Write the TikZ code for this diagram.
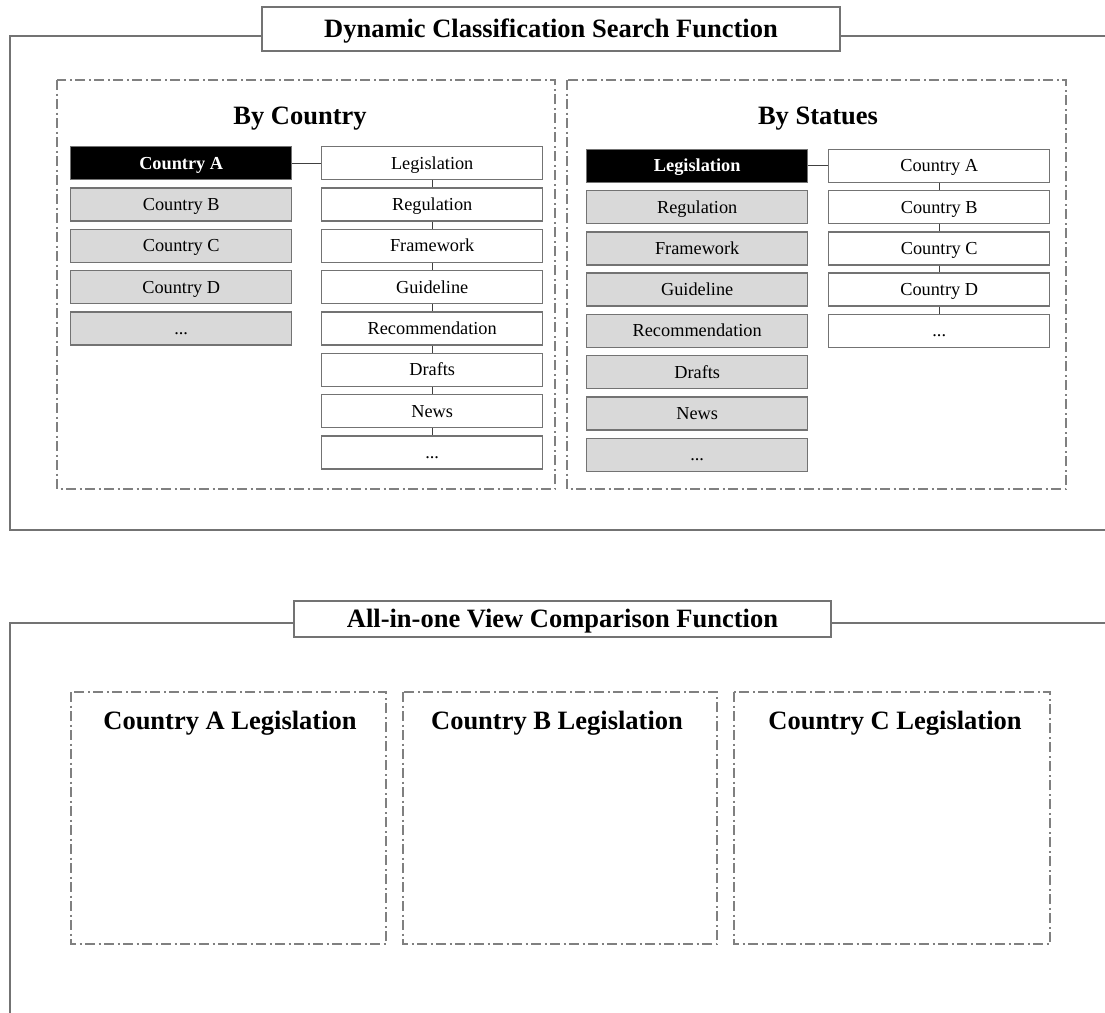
\documentclass[tikz,border=0pt]{standalone}
\usepackage{fontspec}
\setmainfont{Liberation Serif}
\begin{document}
\begin{tikzpicture}[x=1pt,y=-1pt,
  frame/.style={draw=black!55,line width=1.6pt},
  bigtext/.style={font=\fontsize{26.5}{28}\selectfont\bfseries,text height=19.8pt,text depth=2.3pt},
  titlebox/.style={bigtext,draw=black!55,line width=1.4pt,fill=white,inner sep=0pt},
  panel/.style={draw=black!50,line width=1.3pt,dash pattern=on 10pt off 3.5pt on 2pt off 3.5pt},
  heading/.style={bigtext,inner sep=0pt},
  cell/.style={draw=black!55,line width=1.4pt,minimum width=221pt,minimum height=33pt,inner sep=0pt,anchor=north west,font=\fontsize{18.3}{20}\selectfont,text height=13.7pt,text depth=1.6pt},
  wcell/.style={cell,fill=white},
  gcell/.style={cell,fill=black!15},
  bcell/.style={cell,fill=black,text=white,font=\fontsize{18.3}{20}\selectfont\bfseries},
  conn/.style={draw=black!75,line width=0.8pt}
]
\useasboundingbox (0,0) rectangle (1105,1012);

% ---------- upper frame ----------
\coordinate (f1a) at (1106,36);
\coordinate (f1b) at (10,36);
\coordinate (f1c) at (10,530);
\coordinate (f1d) at (1106,530);
\draw[frame] (f1a) -- (f1b) -- (f1c) -- (f1d);
\node[titlebox,minimum width=578pt,minimum height=44pt] (t1) at (551,29) {Dynamic Classification Search Function};

% panels
\coordinate (p1a) at (57,80);  \coordinate (p1b) at (555,489);
\coordinate (p2a) at (567,80); \coordinate (p2b) at (1066,489);
\draw[panel] (p1a) rectangle (p1b);
\draw[panel] (p2a) rectangle (p2b);
\node[heading] (h1) at (300,116) {By Country};
\node[heading] (h2) at (818,116) {By Statues};

% By Country
\node[bcell] (L0) at (70,146.0) {Country A};
\node[gcell] (L1) at (70,187.3) {Country B};
\node[gcell] (L2) at (70,228.6) {Country C};
\node[gcell] (L3) at (70,269.9) {Country D};
\node[gcell] (L4) at (70,311.2) {...};

\node[wcell] (R0) at (321,146.0) {Legislation};
\node[wcell] (R1) at (321,187.3) {Regulation};
\node[wcell] (R2) at (321,228.6) {Framework};
\node[wcell] (R3) at (321,269.9) {Guideline};
\node[wcell] (R4) at (321,311.2) {Recommendation};
\node[wcell] (R5) at (321,352.5) {Drafts};
\node[wcell] (R6) at (321,393.8) {News};
\node[wcell] (R7) at (321,435.1) {...};
\draw[conn] (L0.east) -- (R0.west);
\draw[conn] (R0.south) -- (R1.north);
\draw[conn] (R1.south) -- (R2.north);
\draw[conn] (R2.south) -- (R3.north);
\draw[conn] (R3.south) -- (R4.north);
\draw[conn] (R4.south) -- (R5.north);
\draw[conn] (R5.south) -- (R6.north);
\draw[conn] (R6.south) -- (R7.north);

% By Statues
\node[bcell] (S0) at (586,148.5) {Legislation};
\node[gcell] (S1) at (586,189.8) {Regulation};
\node[gcell] (S2) at (586,231.1) {Framework};
\node[gcell] (S3) at (586,272.4) {Guideline};
\node[gcell] (S4) at (586,313.7) {Recommendation};
\node[gcell] (S5) at (586,355.0) {Drafts};
\node[gcell] (S6) at (586,396.3) {News};
\node[gcell] (S7) at (586,437.6) {...};

\node[wcell] (T0) at (828,148.5) {Country A};
\node[wcell] (T1) at (828,189.8) {Country B};
\node[wcell] (T2) at (828,231.1) {Country C};
\node[wcell] (T3) at (828,272.4) {Country D};
\node[wcell] (T4) at (828,313.7) {...};
\draw[conn] (S0.east) -- (T0.west);
\draw[conn] (T0.south) -- (T1.north);
\draw[conn] (T1.south) -- (T2.north);
\draw[conn] (T2.south) -- (T3.north);
\draw[conn] (T3.south) -- (T4.north);

% ---------- lower frame ----------
\coordinate (f2a) at (1106,623);
\coordinate (f2b) at (10,623);
\coordinate (f2c) at (10,1013);
\draw[frame] (f2a) -- (f2b) -- (f2c);
\node[titlebox,minimum width=537pt,minimum height=36pt] (t2) at (562.5,619) {All-in-one View Comparison Function};

\coordinate (q1a) at (71,692);  \coordinate (q1b) at (386,944);
\coordinate (q2a) at (403,692); \coordinate (q2b) at (717,944);
\coordinate (q3a) at (734,692); \coordinate (q3b) at (1050,944);
\draw[panel] (q1a) rectangle (q1b);
\draw[panel] (q2a) rectangle (q2b);
\draw[panel] (q3a) rectangle (q3b);
\node[heading] (c1) at (230,721) {Country A Legislation};
\node[heading] (c2) at (557,721) {Country B Legislation};
\node[heading] (c3) at (895,721) {Country C Legislation};
\end{tikzpicture}
\end{document}
